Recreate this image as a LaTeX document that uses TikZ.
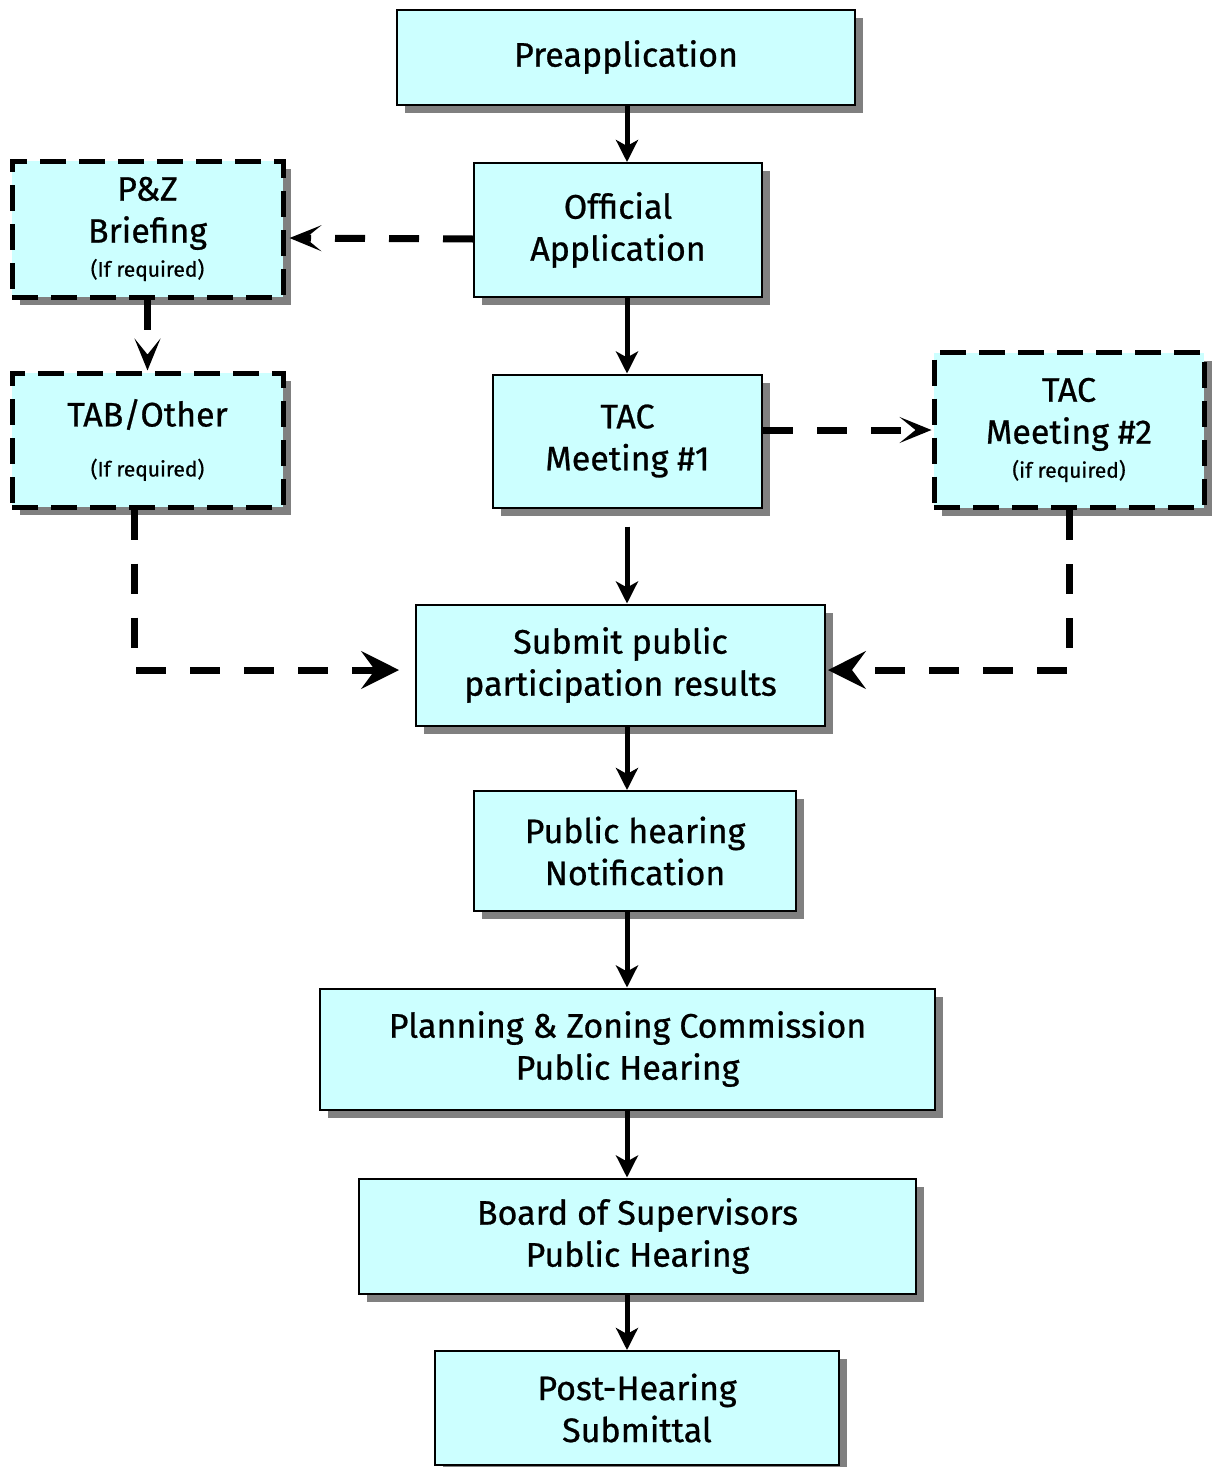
\documentclass[tikz,border=0pt]{standalone}
\usepackage{fontspec}
\setmainfont{Fira Sans}
\newfontfamily\stagefont{Fira Sans}[FakeBold=0.7]
\usepackage{xcolor}
\usepackage{tikz}
\usetikzlibrary{shadows,arrows.meta}

\definecolor{boxcyan}{HTML}{CCFFFF}
\definecolor{shadowgray}{gray}{0.5}

\tikzset{
  stage/.style={draw=black, line width=1pt, fill=boxcyan, align=center, inner sep=0pt,
    drop shadow={shadow xshift=4pt, shadow yshift=-4pt, fill=shadowgray, opacity=1},
    font=\stagefont\fontsize{17}{21}\selectfont},
  optstage/.style={stage, line width=2.5pt, dash pattern=on 13pt off 6.5pt},
  flow/.style={line width=2.5pt, -{Stealth[length=11pt,width=11pt,inset=3pt]}},
  optflow/.style={line width=3.5pt, dash pattern=on 15pt off 12pt,
    -{Stealth[length=16pt,width=13pt,inset=8pt,line width=1.5pt]}},
  bigtip/.style={-{Stealth[length=19pt,width=19pt,inset=7pt,line width=1pt]}},
}
\newcommand{\ifreq}[1]{{\fontsize{10.5}{12}\selectfont #1}}

\begin{document}
\begin{tikzpicture}[x=0.5pt,y=-0.5pt]
    \useasboundingbox (0,0) rectangle (1215,1467);

    % main stages
    \node[stage, minimum width=229pt, minimum height=47.5pt] (pre) at (626,57) {Preapplication};
    \node[stage, minimum width=144pt, minimum height=67pt] (off) at (618,230) {Official\\Application};
    \node[stage, minimum width=134.5pt, minimum height=66.5pt] (tac1) at (627.5,441) {TAC\\Meeting \#1};
    \node[stage, minimum width=204.5pt, minimum height=60.5pt] (sub) at (620.5,665) {Submit public\\participation results};
    \node[stage, minimum width=161pt, minimum height=60pt] (ph) at (635,851) {Public hearing\\Notification};
    \node[stage, minimum width=307.5pt, minimum height=60.5pt] (pzc) at (627.5,1049) {Planning \& Zoning Commission\\Public Hearing};
    \node[stage, minimum width=278.5pt, minimum height=57.5pt] (bos) at (637.5,1236) {Board of Supervisors\\Public Hearing};
    \node[stage, minimum width=202pt, minimum height=57pt] (post) at (637,1408) {Post-Hearing\\Submittal};

    % optional stages
    \node[optstage, minimum width=135.5pt, minimum height=68pt] (pz) at (147.5,229) {P\&Z\\Briefing\\[-4pt]\ifreq{(If required)}};
    \node[optstage, minimum width=135.5pt, minimum height=67pt] (tab) at (147.5,440) {TAB/Other\\[4pt]\ifreq{(If required)}};
    \node[optstage, minimum width=135pt, minimum height=77.5pt] (tac2) at (1069,430) {TAC\\Meeting \#2\\[-4pt]\ifreq{(if required)}};

    \coordinate (spine) at (627,0);

    % main flow
    \draw[flow] (pre.south -| spine) -- (off.north -| spine);
    \draw[flow] (off.south -| spine) -- (tac1.north -| spine);
    \draw[flow, shorten <=9pt] (tac1.south -| spine) -- (sub.north -| spine);
    \draw[flow] (sub.south -| spine) -- (ph.north -| spine);
    \draw[flow] (ph.south -| spine) -- (pzc.north -| spine);
    \draw[flow] (pzc.south -| spine) -- (bos.north -| spine);
    \draw[flow] (bos.south -| spine) -- (post.north -| spine);

    % optional flow
    \draw[optflow, shorten >=2pt] ([yshift=-4.5pt]off.west) -- ([yshift=-4.5pt]pz.east);
    \draw[optflow] (pz.south) -- (tab.north);
    \draw[optflow] (tac1.east |- tac2.west) -- (tac2.west);
    \draw[optflow, bigtip, shorten >=8pt] ([xshift=-6.5pt]tab.south) |- ([yshift=-2.5pt]sub.west);
    \draw[optflow, bigtip, shorten >=1pt] (tac2.south) |- ([yshift=-2.5pt]sub.east);
\end{tikzpicture}
\end{document}
